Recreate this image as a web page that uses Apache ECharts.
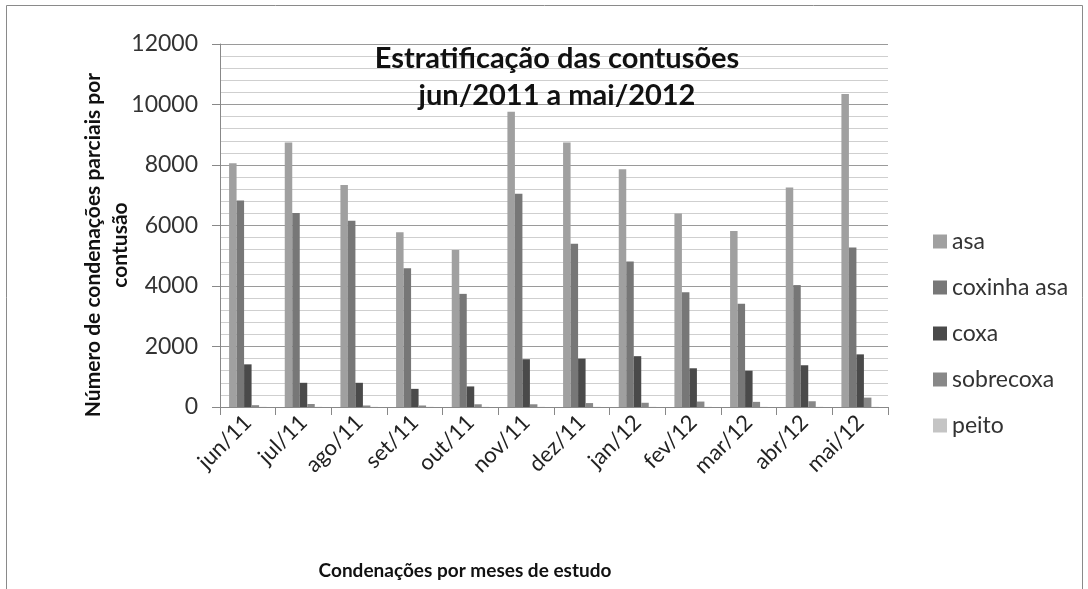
<!DOCTYPE html>
<html>
<head>
<meta charset="utf-8">
<script src="https://cdn.jsdelivr.net/npm/echarts@6/dist/echarts.min.js"></script>
<style>
  html, body { margin: 0; padding: 0; background: #fff; }
  #chart { width: 1088px; height: 589px; }
</style>
</head>
<body>
<div id="chart"></div>
<script>
const months = ['jun/11', 'jul/11', 'ago/11', 'set/11', 'out/11', 'nov/11', 'dez/11', 'jan/12', 'fev/12', 'mar/12', 'abr/12', 'mai/12'];

const asa = [8060, 8740, 7340, 5780, 5190, 9760, 8740, 7860, 6400, 5820, 7260, 10350];
const coxinhaAsa = [6830, 6410, 6160, 4590, 3740, 7050, 5400, 4810, 3790, 3410, 4030, 5270];
const coxa = [1410, 800, 800, 600, 680, 1580, 1600, 1680, 1280, 1200, 1380, 1740];
const sobrecoxa = [60, 100, 50, 50, 90, 90, 130, 140, 180, 170, 190, 310];
const peito = [5, 5, 5, 5, 5, 5, 5, 5, 5, 5, 5, 5];

const seriesNames = ['asa', 'coxinha asa', 'coxa', 'sobrecoxa', 'peito'];
const seriesColors = ['#a0a0a0', '#777777', '#4a4a4a', '#888888', '#c4c4c4'];
const seriesData = [asa, coxinhaAsa, coxa, sobrecoxa, peito];

const font = 'Lato, "Open Sans", sans-serif';

const chart = echarts.init(document.getElementById('chart'));

const option = {
  backgroundColor: '#fff',
  animation: false,
  textStyle: { fontFamily: font },
  grid: { left: 220, right: 200, top: 44, bottom: 182, containLabel: false },
  legend: {
    orient: 'vertical',
    left: 928,
    top: 225,
    itemWidth: 14,
    itemHeight: 14,
    itemGap: 23,
    icon: 'rect',
    textStyle: { fontSize: 23, color: '#333', fontFamily: font },
    data: seriesNames
  },
  xAxis: {
    type: 'category',
    data: months,
    axisLine: { lineStyle: { color: '#888' } },
    axisTick: { show: true, length: 8, lineStyle: { color: '#888' } },
    axisLabel: { rotate: 45, fontSize: 22, color: '#222', margin: 12, fontFamily: font }
  },
  yAxis: {
    type: 'value',
    min: 0,
    max: 12000,
    interval: 2000,
    axisLine: { show: true, lineStyle: { color: '#888' } },
    axisTick: { show: true, length: 8, lineStyle: { color: '#888' } },
    axisLabel: { fontSize: 23, color: '#333', margin: 22, fontFamily: font, formatter: v => String(v) },
    splitLine: { show: true, lineStyle: { color: '#9a9a9a', width: 1 } },
    minorTick: { show: false, splitNumber: 5 },
    minorSplitLine: { show: true, lineStyle: { color: '#cfcfcf', width: 1 } }
  },
  series: seriesNames.map((name, i) => ({
    name: name,
    type: 'bar',
    data: seriesData[i],
    barWidth: 7.5,
    barGap: '0%',
    itemStyle: { color: seriesColors[i] }
  })),
  graphic: [
    {
      type: 'rect',
      shape: { x: 6.5, y: 5.5, width: 1076, height: 600 },
      style: { fill: 'none', stroke: '#8a8a8a', lineWidth: 1 },
      silent: true
    },
    {
      type: 'text',
      x: 557,
      y: 40,
      style: {
        text: 'Estratificação das contusões\njun/2011 a mai/2012',
        textAlign: 'center',
        fontSize: 29, fontWeight: 'bold', lineHeight: 37,
        fill: '#111', fontFamily: font
      },
      z: 10
    },
    {
      type: 'text',
      rotation: Math.PI / 2,
      x: 107,
      y: 245,
      style: {
        text: 'Número de condenações parciais por\ncontusão',
        textAlign: 'center',
        textVerticalAlign: 'middle',
        fontSize: 21, fontWeight: 'bold', lineHeight: 27,
        fill: '#111', fontFamily: font
      }
    },
    {
      type: 'text',
      x: 465,
      y: 571,
      style: {
        text: 'Condenações por meses de estudo',
        textAlign: 'center',
        textVerticalAlign: 'middle',
        fontSize: 19, fontWeight: 'bold',
        fill: '#111', fontFamily: font
      }
    }
  ]
};

chart.setOption(option);
</script>
</body>
</html>
